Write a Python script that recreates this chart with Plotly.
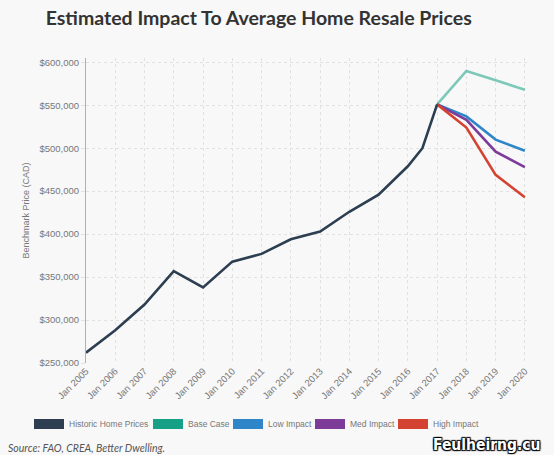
import plotly.graph_objects as go

# ---- data ----
hist_dates = ["2005-01-01", "2006-01-01", "2007-01-01", "2008-01-01", "2009-01-01",
              "2010-01-01", "2011-01-01", "2012-01-01", "2013-01-01", "2014-01-01",
              "2015-01-01", "2016-01-01", "2016-07-01", "2017-01-01"]
hist_values = [262000, 288000, 318000, 357000, 338000, 368000, 377000, 394000,
               403000, 426000, 446000, 479000, 500000, 551000]

fc_dates = ["2017-01-01", "2018-01-01", "2019-01-01", "2020-01-01"]
base_case = [551000, 590000, 579000, 568000]
low_impact = [551000, 537000, 510000, 497000]
med_impact = [551000, 533000, 496000, 478000]
high_impact = [551000, 524000, 469000, 443000]

tick_dates = [f"{y}-01-01" for y in range(2005, 2021)]
tick_labels = [f"Jan {y}" for y in range(2005, 2021)]
y_ticks = [250000, 300000, 350000, 400000, 450000, 500000, 550000, 600000]

series = [
    ("Historic Home Prices", hist_dates, hist_values, "#2c3e50", "#2c3e50"),
    ("Base Case", fc_dates, base_case, "#16a085", "rgba(22,160,133,0.55)"),
    ("Low Impact", fc_dates, low_impact, "#2e86c9", "#2e86c9"),
    ("Med Impact", fc_dates, med_impact, "#7d3c98", "#7d3c98"),
    ("High Impact", fc_dates, high_impact, "#d44332", "#d44332"),
]
legend_left_px = [29, 148, 228, 310, 393]

fig = go.Figure()
for name, xs, ys, lc, c in series[1:] + series[:1]:
    fig.add_trace(go.Scatter(x=xs, y=ys, mode="lines", name=name, showlegend=False,
                             line=dict(color=c, width=2.6)))

legend_layouts = {}
for i, (name, xs, ys, lc, c) in enumerate(series):
    key = "legend" if i == 0 else f"legend{i + 1}"
    fig.add_trace(go.Scatter(x=[None], y=[None], mode="lines", name=name,
                             legend=key, line=dict(color=lc, width=10)))
    legend_layouts[key] = dict(orientation="h", x=(legend_left_px[i] - 86) / 444,
                               xanchor="left", y=-0.2, yanchor="middle",
                               font=dict(size=8.5, color="#777"), bgcolor="rgba(0,0,0,0)")

fig.update_layout(
    width=554, height=455,
    margin=dict(l=86, r=24, t=58, b=92, autoexpand=False),
    paper_bgcolor="#f8f8f8", plot_bgcolor="#f8f8f8",
    font=dict(family="Liberation Sans, Arial, sans-serif", color="#777", size=9.5),
    title=dict(text="<b>Estimated Impact To Average Home Resale Prices</b>",
               x=0.467, xanchor="center", y=1 - 18 / 455, yanchor="middle",
               font=dict(family="Lato, sans-serif", size=19.5, color="#333")),
    showlegend=True,
    xaxis=dict(type="date", range=["2005-01-01", "2020-03-05"],
               tickmode="array", tickvals=tick_dates, ticktext=tick_labels,
               tickangle=-45, showgrid=True, gridcolor="#e2e2e2", griddash="dot",
               gridwidth=1, zeroline=False, showline=False,
               ticks="", tickfont=dict(size=9.5, color="#777")),
    yaxis=dict(range=[250000, 605000], tickmode="array", tickvals=y_ticks,
               tickformat="$,.0f", showgrid=True, gridcolor="#e2e2e2", griddash="dot",
               zeroline=False, showline=True, linecolor="#b0b0b0", linewidth=1,
               ticks="outside", ticklen=4, tickcolor="#e2e2e2",
               title=dict(text="Benchmark Price (CAD)", font=dict(size=9, color="#777"),
                          standoff=8),
               tickfont=dict(size=9.5, color="#777")),
    **legend_layouts,
)

fig.add_annotation(text="<i>Source: FAO, CREA, Better Dwelling.</i>", xref="paper", yref="paper",
                   x=(6 - 86) / 444, y=(363 - 448) / 305, xanchor="left", yanchor="middle",
                   showarrow=False, font=dict(family="Lato, sans-serif", size=10.5, color="#555"))
fig.add_annotation(text="<b>Feulheirng.cu</b>", xref="paper", yref="paper",
                   x=(431 - 86) / 444, y=(363 - 445) / 305, xanchor="left", yanchor="middle",
                   showarrow=False,
                   font=dict(family="DejaVu Sans Condensed, sans-serif",
                             size=15.5, color="white",
                             shadow="1px 1px 1px #000, -1px -1px 1px #000, 1px -1px 1px #000, -1px 1px 1px #000"))

fig.write_html("out.html", config={"displayModeBar": False},
               post_script="document.body.style.margin='0';document.body.style.overflow='hidden';")
